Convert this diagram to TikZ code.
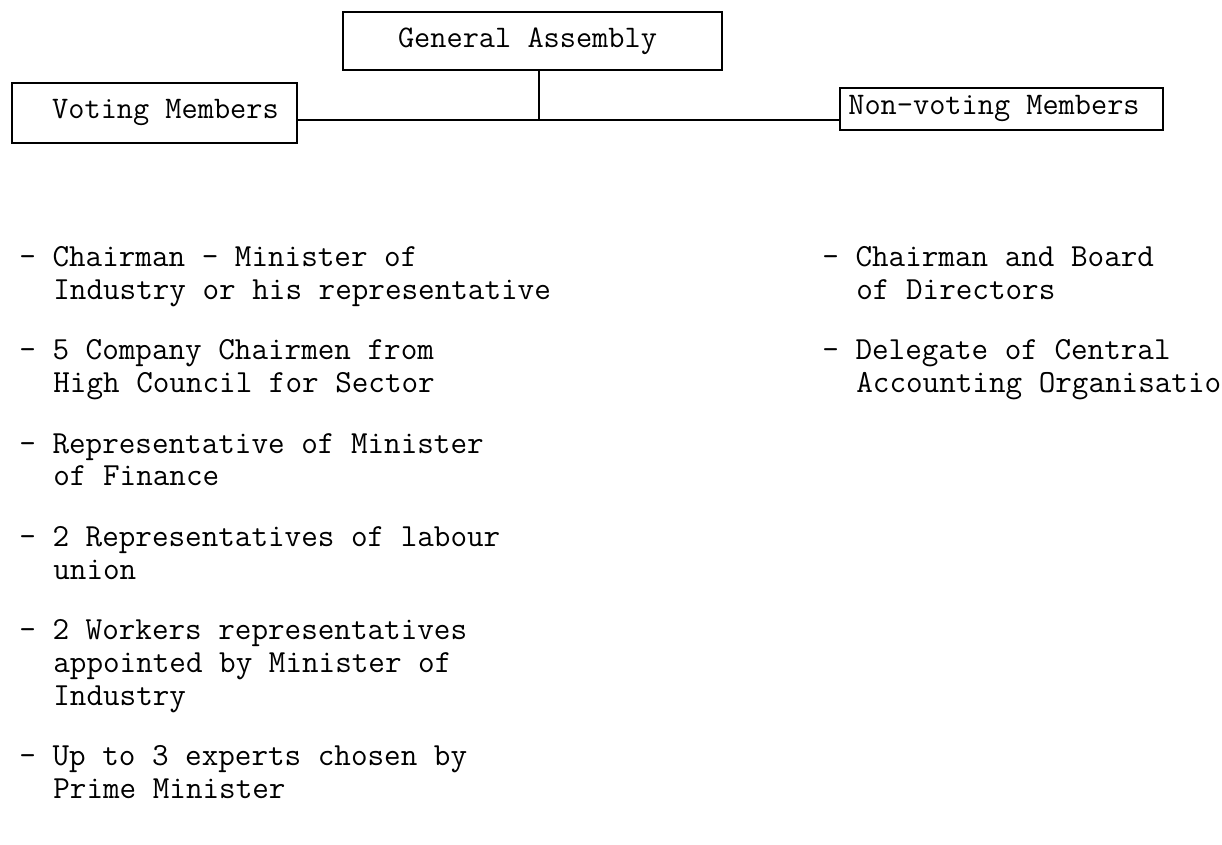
\documentclass[tikz,border=0pt]{standalone}
\usepackage{fontspec}
\begin{document}
\begin{tikzpicture}[x=0.5pt,y=-0.5pt,
  every node/.style={font=\ttfamily\fontsize{15.71}{18}\selectfont, inner sep=0pt},
  box/.style={draw, line width=1pt},
  link/.style={line width=1pt},
  item/.style={anchor=base west, font=\ttfamily\fontsize{16.1}{18}\selectfont}]
\useasboundingbox (0,0) rectangle (1222,845);

% boxes
\node[box, minimum width=189.5pt, minimum height=29pt] (ga) at (532.5,41) {General Assembly\hspace*{5pt}};
\node[box, minimum width=142.5pt, minimum height=30pt] (vm) at (154.5,113) {\hspace*{11pt}Voting Members};
\node[box, minimum width=161.5pt, minimum height=21pt] (nv) at (1001.5,109) {Non-voting Members\hspace*{7.5pt}};

% connectors
\coordinate (j) at (539,120);
\draw[link] (ga.south -| j) -- (j);
\draw[link] (vm.east |- j) -- (nv.west |- j);

% voting members
\node[item] (v1a) at (19,267) {- Chairman - Minister of};
\node[item] (v1b) at (53,300) {Industry or his representative};
\node[item] (v2a) at (19,360) {- 5 Company Chairmen from};
\node[item] (v2b) at (53,393) {High Council for Sector};
\node[item] (v3a) at (19,453) {- Representative of Minister};
\node[item] (v3b) at (53,486) {of Finance};
\node[item] (v4a) at (19,546) {- 2 Representatives of labour};
\node[item] (v4b) at (53,579) {union};
\node[item] (v5a) at (19,639) {- 2 Workers representatives};
\node[item] (v5b) at (53,672) {appointed by Minister of};
\node[item] (v5c) at (53,705) {Industry};
\node[item] (v6a) at (19,765) {- Up to 3 experts chosen by};
\node[item] (v6b) at (53,798) {Prime Minister};

% non-voting members
\node[item] (n1a) at (822,267) {- Chairman and Board};
\node[item] (n1b) at (856,300) {of Directors};
\node[item] (n2a) at (822,360) {- Delegate of Central};
\node[item] (n2b) at (856,393) {Accounting Organisatio};
\end{tikzpicture}
\end{document}
